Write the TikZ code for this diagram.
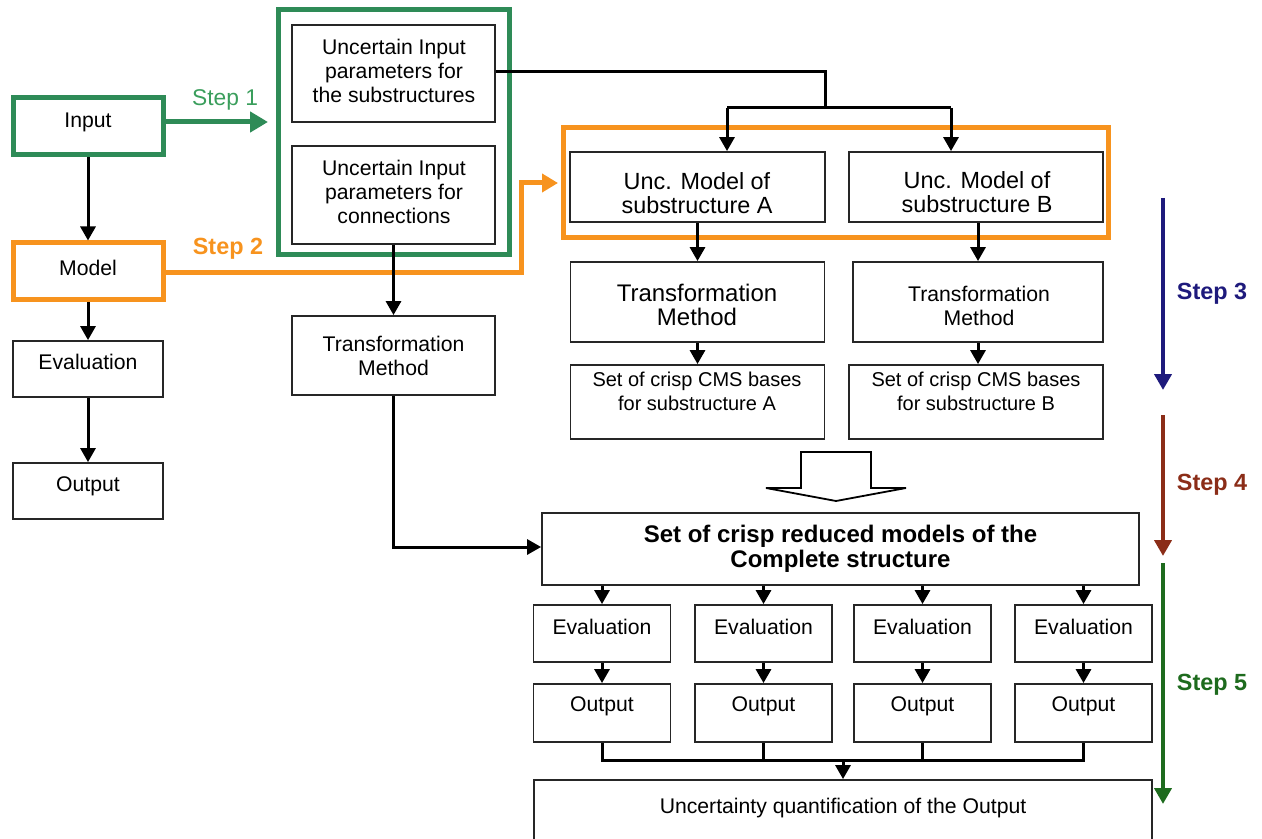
\documentclass[tikz,border=0pt]{standalone}
\usepackage{fontspec}
\setmainfont{Liberation Sans}
\usetikzlibrary{arrows.meta}
\definecolor{grn}{HTML}{2E8B57}
\definecolor{grnt}{HTML}{3A9E5C}
\definecolor{org}{HTML}{F7931E}
\definecolor{navy}{HTML}{1E1A7C}
\definecolor{brn}{HTML}{8B2D18}
\definecolor{dgrn}{HTML}{1E6B1E}
\tikzset{
  box/.style={draw=black!85, line width=0.9pt, fill=white, inner sep=0pt, align=center},
  txt/.style={inner sep=0pt, align=center},
  fA/.style={font=\fontsize{10.6}{12}\selectfont},
  fB/.style={font=\fontsize{11.7}{12}\selectfont},
  fC/.style={font=\fontsize{10}{12}\selectfont},
  fD/.style={font=\fontsize{12}{12.5}\selectfont\bfseries},
  fS/.style={font=\fontsize{11.7}{12}\selectfont\bfseries},
  arr/.style={line width=1.5pt, -{Triangle[length=7pt,width=7.5pt]}},
  ln/.style={line width=1.5pt},
  steparr/.style={line width=2pt, -{Triangle[length=8pt,width=8.5pt]}},
}
\begin{document}
\begin{tikzpicture}[x=0.5pt,y=-0.5pt]
\useasboundingbox (0,0) rectangle (1262,839);
\clip (0,0) rectangle (1262,839);

% frames
\node[draw=grn, line width=2.5pt, minimum width=115.5pt, minimum height=122.5pt, inner sep=0pt] (gframe) at (393.5,132.5) {};
\node[draw=org, line width=2.5pt, minimum width=272.5pt, minimum height=55pt, inner sep=0pt] (oframe) at (835.5,183) {};

% left column
\node[box, fA, draw=grn, line width=2.5pt, minimum width=75pt, minimum height=28.5pt] (in) at (88,126.5) {};
\node[txt, fA] (in-t) at (88,122) {Input};
\node[box, fA, draw=org, line width=2.5pt, minimum width=75pt, minimum height=28.5pt] (model) at (88,271.5) {};
\node[txt, fA] (model-t) at (88,268) {Model};
\node[box, minimum width=75pt, minimum height=28pt] (evalL) at (88,369) {};
\node[txt, fA] (evalL-t) at (88,362) {Evaluation};
\node[box, minimum width=75pt, minimum height=28pt] (outL) at (88,491) {};
\node[txt, fA] (outL-t) at (88,486) {Output};

% uncertain inputs
\node[box, fA, minimum width=101.5pt, minimum height=48.5pt] (u1) at (393.5,73.5) {};
\node[txt, fA] (u1-t) at (394,71) {Uncertain Input\\parameters for\\the substructures};
\node[box, fA, minimum width=101.5pt, minimum height=49pt] (u2) at (393.5,195) {};
\node[txt, fA] (u2-t) at (394,192) {Uncertain Input\\parameters for\\connections};
\node[box, fA, minimum width=101.5pt, minimum height=39.5pt] (tmL) at (393.5,355.5) {Transformation\\Method};

% substructure models
\node[box, minimum width=127.5pt, minimum height=35pt] (ua) at (697.5,187) {};
\node[txt, fB] (ua-t) at (697,193) {Unc. Model of\\substructure A};
\node[box, minimum width=127pt, minimum height=35pt] (ub) at (976,187) {};
\node[txt, fB] (ub-t) at (977,192) {Unc. Model of\\substructure B};
\node[box, minimum width=127pt, minimum height=40pt] (tma) at (697.5,302) {};
\node[txt, font=\fontsize{12}{12}\selectfont] (tma-t) at (697,305) {Transformation\\Method};
\node[box, minimum width=125pt, minimum height=40pt] (tmb) at (978,302) {};
\node[txt, fA] (tmb-t) at (979,306) {Transformation\\Method};
\node[box, minimum width=127pt, minimum height=37pt] (cmsa) at (697.5,402) {};
\node[txt, fC] (cmsa-t) at (697,391) {Set of crisp CMS bases\\for substructure A};
\node[box, minimum width=127pt, minimum height=37pt] (cmsb) at (976,402) {};
\node[txt, fC] (cmsb-t) at (976,391) {Set of crisp CMS bases\\for substructure B};

% hollow arrow
\draw[line width=0.9pt, fill=white] (801,452) -- (871,452) -- (871,488) -- (906,488) -- (836,501) -- (766,488) -- (801,488) -- cycle;

% complete structure
\node[box, fD, minimum width=298.5pt, minimum height=36pt] (crisp) at (840.5,549) {Set of crisp reduced models of the\\Complete structure};

\foreach \i/\x in {1/602,2/763.5,3/922.5,4/1083.5}{
  \node[box, minimum width=68.5pt, minimum height=28.5pt] (ev\i) at (\x,633.5) {};
  \node[txt, fA] (ev\i-t) at (\x,627) {Evaluation};
  \node[box, minimum width=68.5pt, minimum height=29pt] (out\i) at (\x,713) {};
  \node[txt, fA] (out\i-t) at (\x,706) {Output};
}
\node[box, minimum width=309pt, minimum height=35pt] (unc) at (843,815) {};
\node[txt, fA] (unc-t) at (843,808) {Uncertainty quantification of the Output};

% left column connectors
\draw[arr] (in) -- (model);
\draw[arr] (model) -- (evalL);
\draw[arr] (evalL) -- (outL);

% step 1
\coordinate (s1end) at (268,122);
\draw[grn, line width=2.5pt, -{Triangle[length=9pt,width=10pt]}] (in.east |- s1end) -- (s1end);
\node[txt, font=\fontsize{11.4}{12}\selectfont, text=grnt] (s1) at (225,100) {Step 1};

% step 2
\coordinate (s2a) at (521,273);
\coordinate (s2b) at (521,183);
\coordinate (s2end) at (558,183);
\draw[org, line width=2.5pt, -{Triangle[length=8pt,width=9pt]}] (model.east |- s2a) -- (s2a) -- (s2b) -- (s2end);
\node[txt, fS, text=org] (s2) at (228,249) {Step 2};

% u1 to models
\coordinate (j1) at (825,72);
\coordinate (j2) at (825,108);
\coordinate (ja) at (727,108);
\coordinate (jb) at (951,108);
\draw[ln] (u1.east |- j1) -- (j1) -- (j2);
\draw[ln] (ja) -- (jb);
\draw[arr] (ja) -- (ua.north -| ja);
\draw[arr] (jb) -- (ub.north -| jb);

% u2 to tmL and on
\draw[arr] (u2) -- (tmL);
\coordinate (k1) at (393.5,547);
\draw[arr] (tmL.south) -- (k1) -- (crisp.west |- k1);

\draw[arr] (ua) -- (tma);
\draw[arr] (ub.south -| tmb) -- (tmb);
\draw[arr] (tma) -- (cmsa);
\draw[arr] (tmb) -- (cmsb.north -| tmb);

\foreach \i in {1,2,3,4}{
  \draw[arr] (crisp.south -| ev\i) -- (ev\i);
  \draw[arr] (ev\i) -- (out\i);
}
\coordinate (m1) at (602,760);
\coordinate (m4) at (1083.5,760);
\coordinate (mc) at (843,760);
\draw[ln] (out1.south) -- (m1) -- (m4) -- (out4.south);
\draw[ln] (out2.south) -- (out2.south |- mc);
\draw[ln] (out3.south) -- (out3.south |- mc);
\draw[arr] (mc) -- (unc.north);

% steps 3-5
\coordinate (a3) at (1163,198); \coordinate (b3) at (1163,390);
\coordinate (a4) at (1163,415); \coordinate (b4) at (1163,556);
\coordinate (a5) at (1163,563); \coordinate (b5) at (1163,804);
\draw[steparr, navy] (a3) -- (b3);
\draw[steparr, brn] (a4) -- (b4);
\draw[steparr, dgrn] (a5) -- (b5);
\node[txt, fS, text=navy] (s3) at (1212,294) {Step 3};
\node[txt, fS, text=brn] (s4) at (1212,485) {Step 4};
\node[txt, fS, text=dgrn] (s5) at (1212,685) {Step 5};
\end{tikzpicture}
\end{document}
